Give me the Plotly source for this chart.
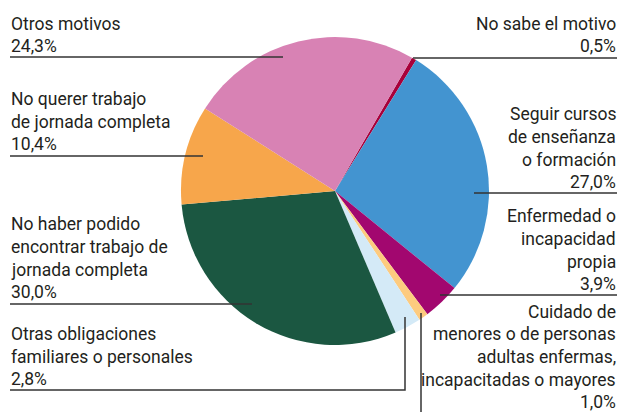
import plotly.graph_objects as go

W, H = 619, 412

# slices, clockwise from the "No sabe" wedge
motivos = ["No sabe el motivo", "Seguir cursos de enseñanza o formación",
           "Enfermedad o incapacidad propia",
           "Cuidado de menores o de personas adultas enfermas, incapacitadas o mayores",
           "Otras obligaciones familiares o personales",
           "No haber podido encontrar trabajo de jornada completa",
           "No querer trabajo de jornada completa", "Otros motivos"]
porcentajes = [0.5, 27.0, 3.9, 1.0, 2.8, 30.0, 10.4, 24.3]
colores = ["#A8003A", "#4394D0", "#A2076F", "#FDCB7F", "#D4EAF7",
           "#1B5741", "#F7A64B", "#D882B4"]

# label text as printed, line by line
etiquetas = [
    ["No sabe el motivo", "0,5%"],
    ["Seguir cursos", "de enseñanza", "o formación", "27,0%"],
    ["Enfermedad o", "incapacidad", "propia", "3,9%"],
    ["Cuidado de", "menores o de personas", "adultas enfermas,",
     "incapacitadas o mayores", "1,0%"],
    ["Otras obligaciones", "familiares o personales", "2,8%"],
    ["No haber podido", "encontrar trabajo de", "jornada completa", "30,0%"],
    ["No querer trabajo", "de jornada completa", "10,4%"],
    ["Otros motivos", "24,3%"],
]

FS = 17.5
LH = 22.6
FONT = "Roboto, sans-serif"

def px(x):
    return x / W

def py(y):
    return 1 - y / H

# where each label sits: (x, anchor, baseline of last line) in pixels
pos_texto = [(617, "right", 53), (617, "right", 189), (617, "right", 291),
             (617, "right", 409), (10, "left", 386), (10, "left", 299),
             (10, "left", 151), (10, "left", 53)]

# leader lines in pixels
guias = [
    [(413, 58), (617, 58)],
    [(474, 193), (617, 193)],
    [(440, 295), (617, 295)],
    [(421, 313), (421, 412)],
    [(10, 390), (405, 390), (405, 317)],
    [(10, 304), (252, 304)],
    [(10, 156), (203, 156)],
    [(10, 57), (283, 57)],
]

cx, cy, r = 335, 191, 154

fig = go.Figure(go.Pie(
    labels=motivos, values=porcentajes, sort=False, direction="clockwise",
    rotation=30, textinfo="none", hoverinfo="label+percent",
    marker=dict(colors=colores, line=dict(width=0)),
    domain=dict(x=[px(cx - r), px(cx + r)], y=[py(cy + r), py(cy - r)]),
    showlegend=False,
))

for lineas, (x, al, yb) in zip(etiquetas, pos_texto):
    n = len(lineas)
    for i, t in enumerate(lineas):
        base = yb - (n - 1 - i) * LH
        fig.add_annotation(
            x=px(x), y=py(base + 0.244 * FS), xref="paper", yref="paper",
            text=t, showarrow=False, xanchor=al, yanchor="bottom",
            borderpad=0, font=dict(family=FONT, size=FS, color="#231F20"))

for g in guias:
    path = "M " + " L ".join(f"{px(a)},{py(b)}" for a, b in g)
    fig.add_shape(type="path", path=path, xref="paper", yref="paper",
                  line=dict(color="#333333", width=1.5))

fig.update_layout(width=W, height=H, margin=dict(l=0, r=0, t=0, b=0),
                  paper_bgcolor="white", plot_bgcolor="white")

fig.write_html("out.html", config={"displayModeBar": False},
               post_script="document.body.style.margin='0';")
